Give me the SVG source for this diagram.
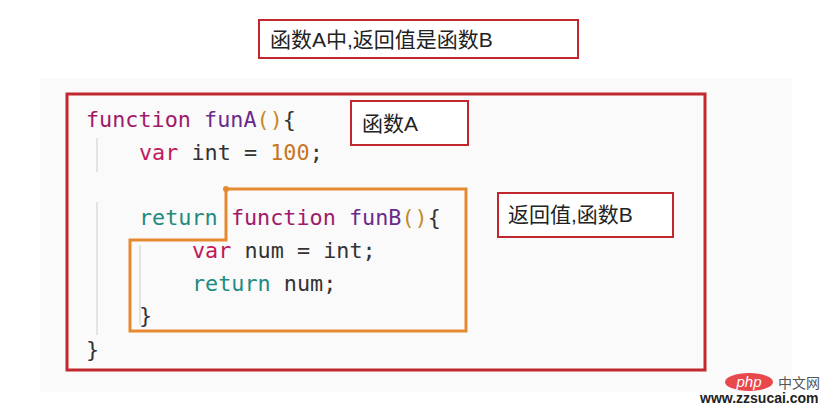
<svg xmlns="http://www.w3.org/2000/svg" width="832" height="414" viewBox="0 0 832 414">
<style>
.lbl{fill:#fff;stroke:#c0282d;stroke-width:2}
.cn{font-family:"Liberation Sans","Noto Sans CJK SC",sans-serif;font-size:21px;fill:#222}
.code{font-family:"DejaVu Sans Mono","Liberation Mono",monospace;font-size:21.8px;fill:#333}
.kw{fill:#a0196a}.fn{fill:#6b2b8c}.p{fill:#c58a2a}.v{fill:#c2185b}.r{fill:#1f8a80}.n{fill:#c8761e}
</style>
<rect width="832" height="414" fill="#fff"/>
<rect x="40" y="78" width="752" height="314" fill="#fafafa"/>
<g id="title"><rect class="lbl" x="259" y="20" width="319" height="38"/><text class="cn" x="270" y="47">函数A中,返回值是函数B</text></g>
<g id="funA-box"><rect x="67" y="94" width="638" height="276" fill="none" stroke="#c0282d" stroke-width="3"/></g>
<g id="guides" stroke="#ccc" stroke-width="1"><line x1="97" y1="138" x2="97" y2="172"/><line x1="97" y1="202" x2="97" y2="335"/><line x1="140" y1="245" x2="140" y2="325"/></g>
<g id="code" class="code">
<text x="86" y="127"><tspan class="kw">function</tspan> <tspan class="fn">funA</tspan><tspan class="p">()</tspan>{</text>
<text x="139" y="160"><tspan class="v">var</tspan> int = <tspan class="n">100</tspan>;</text>
<text x="139" y="225"><tspan class="r">return</tspan> <tspan class="kw">function</tspan> <tspan class="fn">funB</tspan><tspan class="p">()</tspan>{</text>
<text x="192" y="258"><tspan class="v">var</tspan> num = int;</text>
<text x="192" y="291"><tspan class="r">return</tspan> num;</text>
<text x="139" y="323">}</text>
<text x="86" y="357">}</text>
</g>
<g id="connectors"><path d="M226,189 H466 V331 H130 V240 H226 Z" fill="none" stroke="#e58a2e" stroke-width="3"/><circle cx="226" cy="189" r="3" fill="#e58a2e"/></g>
<g id="label-A"><rect class="lbl" x="351" y="101" width="117" height="44"/><text class="cn" x="362" y="131">函数A</text></g>
<g id="label-B"><rect class="lbl" x="498" y="193" width="175" height="44"/><text class="cn" x="508" y="222">返回值,函数B</text></g>
<g id="watermark">
<ellipse cx="749" cy="382" rx="24" ry="9" fill="#e8484c"/>
<text x="749" y="387" font-family="Liberation Sans,sans-serif" font-size="15" font-style="italic" fill="#fff" text-anchor="middle">php</text>
<text x="778" y="388" font-family="Noto Sans CJK SC,sans-serif" font-size="14" fill="#555">中文网</text>
<text x="700" y="403" font-family="Liberation Sans,sans-serif" font-size="14" font-weight="bold" fill="#222">www.zzsucai.com</text>
</g>
</svg>
